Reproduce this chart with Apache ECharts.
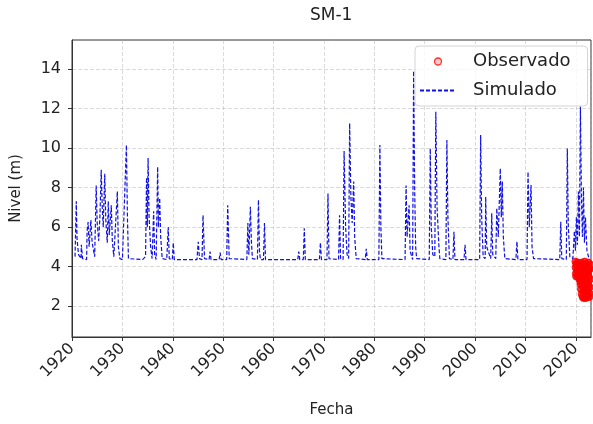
<!DOCTYPE html>
<html>
<head>
<meta charset="utf-8">
<script src="https://cdn.jsdelivr.net/npm/echarts@6/dist/echarts.min.js"></script>
<style>
  html, body { margin: 0; padding: 0; background: #ffffff; }
  #chart { width: 593px; height: 424px; }
</style>
</head>
<body>
<div id="chart"></div>
<script>
// Well SM-1: simulated water level (dashed) and observed levels (circles), in metres.
const titleText = 'SM-1';
const xName = 'Fecha';
const yName = 'Nivel (m)';
const seriesNames = ['Observado', 'Simulado'];

const yTicks = [2, 4, 6, 8, 10, 12, 14];

// Simulated level: [decimal year, level]
const simulado = [
  [1920.60, 4.50], [1920.85, 7.30], [1921.00, 5.40], [1921.30, 4.60], [1921.80, 4.40], [1921.85, 5.10],
  [1922.10, 4.40], [1922.90, 4.35], [1923.00, 5.80], [1923.20, 6.25], [1923.40, 5.00], [1923.75, 6.35],
  [1924.00, 5.20], [1924.50, 4.50], [1924.80, 8.10], [1925.00, 6.20], [1925.30, 5.30], [1925.55, 6.60],
  [1925.80, 8.90], [1926.00, 7.00], [1926.20, 6.00], [1926.50, 8.70], [1926.70, 6.40], [1927.00, 5.20],
  [1927.20, 7.30], [1927.40, 5.60], [1927.80, 7.10], [1928.00, 5.30], [1928.30, 4.50], [1928.60, 4.40],
  [1929.00, 7.80], [1929.20, 5.00], [1929.50, 4.40], [1930.00, 4.35], [1930.80, 10.15], [1931.00, 6.50],
  [1931.20, 4.40], [1934.00, 4.35], [1934.60, 4.50], [1934.80, 8.50], [1934.95, 6.00], [1935.10, 9.50],
  [1935.30, 6.50], [1935.60, 5.00], [1935.90, 4.40], [1936.20, 6.80], [1936.40, 4.60], [1936.70, 4.35],
  [1937.00, 9.05], [1937.15, 6.00], [1937.40, 7.47], [1937.60, 5.50], [1937.90, 4.40], [1938.80, 4.35],
  [1939.10, 6.00], [1939.30, 4.40], [1939.90, 4.35], [1940.10, 5.20], [1940.30, 4.35],
  [1944.80, 4.35], [1945.05, 5.25], [1945.30, 4.40], [1945.80, 4.35], [1946.00, 6.60], [1946.30, 4.40],
  [1947.20, 4.35], [1947.40, 4.75], [1947.60, 4.35], [1949.20, 4.35], [1949.40, 4.70], [1949.60, 4.35],
  [1950.70, 4.35], [1950.90, 7.10], [1951.20, 4.40],
  [1954.70, 4.35], [1954.90, 6.20], [1955.10, 4.60], [1955.40, 7.03], [1955.60, 5.30], [1955.80, 4.40],
  [1956.80, 4.35], [1957.00, 7.37], [1957.20, 4.80], [1957.40, 4.35], [1958.00, 4.35], [1958.20, 6.20],
  [1958.40, 4.35],
  [1964.80, 4.35], [1965.00, 4.75], [1965.20, 4.35], [1965.90, 4.35], [1966.10, 5.93], [1966.30, 4.35],
  [1969.10, 4.35], [1969.30, 5.20], [1969.50, 4.35], [1970.60, 4.35], [1970.80, 7.70], [1971.00, 4.40],
  [1972.90, 4.35], [1973.10, 6.60], [1973.30, 4.40], [1973.80, 4.35], [1974.00, 9.85], [1974.30, 6.00],
  [1974.60, 4.60], [1974.90, 4.40], [1975.10, 11.25], [1975.35, 7.50], [1975.60, 6.20], [1975.90, 8.30],
  [1976.10, 5.50], [1976.40, 4.40],
  [1978.20, 4.35], [1978.40, 4.90], [1978.60, 4.35], [1980.90, 4.35], [1981.10, 10.15], [1981.30, 6.00],
  [1981.50, 4.40],
  [1986.10, 4.35], [1986.30, 8.10], [1986.50, 5.50], [1986.90, 7.10], [1987.10, 4.80], [1987.60, 4.35],
  [1987.80, 13.90], [1988.00, 8.00], [1988.20, 5.00], [1988.40, 4.40],
  [1990.90, 4.35], [1991.10, 9.98], [1991.30, 6.00], [1991.60, 4.60], [1992.00, 4.50], [1992.20, 11.84],
  [1992.45, 7.00], [1992.80, 5.10], [1993.00, 4.40], [1994.20, 4.35], [1994.40, 10.40], [1994.60, 6.50],
  [1994.90, 4.40], [1995.60, 4.35], [1995.80, 5.76], [1996.00, 4.35], [1997.80, 4.35], [1998.00, 5.10],
  [1998.20, 4.35],
  [2000.90, 4.35], [2001.10, 10.66], [2001.30, 6.50], [2001.60, 4.50], [2002.00, 4.40], [2002.10, 7.53],
  [2002.30, 5.00], [2003.10, 4.40], [2003.30, 6.69], [2003.50, 4.60], [2004.10, 4.40], [2004.30, 6.95],
  [2004.60, 5.50], [2005.00, 8.97], [2005.20, 6.50], [2005.40, 8.30], [2005.60, 5.50], [2005.90, 4.40],
  [2008.10, 4.35], [2008.30, 5.26], [2008.50, 4.35], [2010.30, 4.35], [2010.50, 8.80], [2010.75, 6.00],
  [2011.10, 8.13], [2011.30, 5.00], [2011.60, 4.40],
  [2016.80, 4.35], [2017.00, 6.27], [2017.20, 4.40], [2018.10, 4.35], [2018.30, 9.98], [2018.50, 6.00],
  [2018.80, 4.50], [2019.40, 4.40], [2019.70, 5.80], [2019.90, 4.80], [2020.10, 6.50], [2020.30, 5.10],
  [2020.50, 7.80], [2020.70, 5.50], [2020.90, 12.10], [2021.10, 7.50], [2021.30, 5.50], [2021.50, 8.00],
  [2021.70, 5.20], [2021.90, 6.50], [2022.20, 4.80], [2022.60, 4.40], [2022.80, 4.35]
];

// Observed level: [decimal year, level]
const observado = [
  [2019.90, 4.25], [2019.95, 3.95], [2020.00, 3.65], [2020.05, 3.50], [2020.10, 4.10], [2020.20, 3.80],
  [2020.30, 3.55], [2020.40, 4.20], [2020.50, 3.70], [2020.60, 3.40], [2020.70, 3.95], [2020.80, 3.30],
  [2020.90, 3.10], [2021.00, 2.85], [2021.10, 4.20], [2021.15, 2.60], [2021.25, 3.40], [2021.35, 2.45],
  [2021.45, 3.90], [2021.55, 2.40], [2021.65, 3.10], [2021.75, 4.25], [2021.85, 2.75], [2021.95, 2.40],
  [2022.05, 3.60], [2022.15, 4.05], [2022.25, 2.45], [2022.30, 3.20], [2022.35, 2.80], [2022.45, 4.20],
  [2022.55, 3.50], [2022.65, 2.45], [2022.70, 3.85], [2022.75, 2.95], [2021.20, 3.75], [2021.60, 3.45],
  [2022.00, 2.95], [2022.40, 3.70], [2021.80, 3.40], [2021.40, 3.00], [2020.85, 4.00], [2020.95, 3.60],
  [2021.05, 3.20], [2021.30, 4.10], [2021.70, 3.75], [2021.90, 4.05], [2022.10, 3.30], [2022.20, 2.70],
  [2022.50, 3.05], [2022.60, 3.90], [2022.80, 3.35], [2022.85, 4.10], [2021.50, 2.75], [2022.70, 2.65]
];

const FONT = 'DejaVu Sans';
const chart = echarts.init(document.getElementById('chart'), null, { renderer: 'canvas' });

chart.setOption({
  animation: false,
  backgroundColor: '#ffffff',
  textStyle: { fontFamily: FONT },
  title: {
    text: titleText,
    left: 310,
    top: 7,
    padding: 0,
    textStyle: { fontFamily: FONT, fontSize: 17, fontWeight: 'normal', color: '#222' }
  },
  legend: {
    data: [
      { name: seriesNames[0], itemStyle: { color: 'rgba(255,0,0,0.25)', borderColor: '#ff0000', borderWidth: 1.3 } },
      { name: seriesNames[1], itemStyle: { opacity: 0 } }
    ],
    orient: 'vertical',
    left: 415,
    top: 46,
    padding: [6, 17, 6, 4],
    itemWidth: 36,
    itemHeight: 7,
    itemGap: 10,
    backgroundColor: 'rgba(255,255,255,0.8)',
    borderColor: '#d4d4d4',
    borderWidth: 1,
    borderRadius: 4,
    textStyle: { fontFamily: FONT, fontSize: 18, color: '#222', padding: [0, 0, 0, 12], lineHeight: 19 },
    z: 10
  },
  grid: {
    left: 72, right: 2, top: 40, bottom: 87,
    show: true, borderColor: '#333', borderWidth: 1
  },
  xAxis: {
    type: 'value',
    min: 1920, max: 2023, interval: 10,
    name: xName,
    nameLocation: 'middle',
    nameGap: 66,
    nameTextStyle: { fontFamily: FONT, fontSize: 15, color: '#222' },
    axisLine: { show: true, lineStyle: { color: '#333', width: 1 } },
    axisTick: { show: true, inside: false, length: 4, lineStyle: { color: '#333' } },
    axisLabel: {
      rotate: 45, margin: 9, fontFamily: FONT, fontSize: 16, color: '#222',
      showMaxLabel: false,
      formatter: v => (v % 10 === 0 ? String(v) : '')
    },
    splitLine: { show: true, lineStyle: { color: 'rgba(170,170,170,0.55)', width: 0.8, type: [4, 2] } }
  },
  yAxis: {
    type: 'value',
    min: 0.43, max: 15.47,
    name: yName,
    nameLocation: 'middle',
    nameGap: 48,
    nameRotate: 90,
    nameTextStyle: { fontFamily: FONT, fontSize: 15, color: '#222' },
    axisLine: { show: true, lineStyle: { color: '#333', width: 1 } },
    axisTick: { show: true, inside: false, length: 4, customValues: yTicks, lineStyle: { color: '#333' } },
    axisLabel: { margin: 11, fontFamily: FONT, fontSize: 16, color: '#222', customValues: yTicks },
    splitLine: { show: true, lineStyle: { color: 'rgba(170,170,170,0.55)', width: 0.8, type: [4, 2] } }
  },
  series: [
    {
      name: seriesNames[0],
      type: 'scatter',
      data: observado,
      symbol: 'circle',
      symbolSize: 7,
      itemStyle: { color: '#ff0000', borderColor: '#ff0000', borderWidth: 1 },
      z: 3
    },
    {
      name: seriesNames[1],
      type: 'line',
      data: simulado,
      showSymbol: false,
      symbol: 'none',
      lineStyle: { color: '#1010e8', width: 1.2, type: [4, 2] },
      itemStyle: { color: '#1010e8' },
      z: 2
    }
  ]
});
</script>
</body>
</html>
